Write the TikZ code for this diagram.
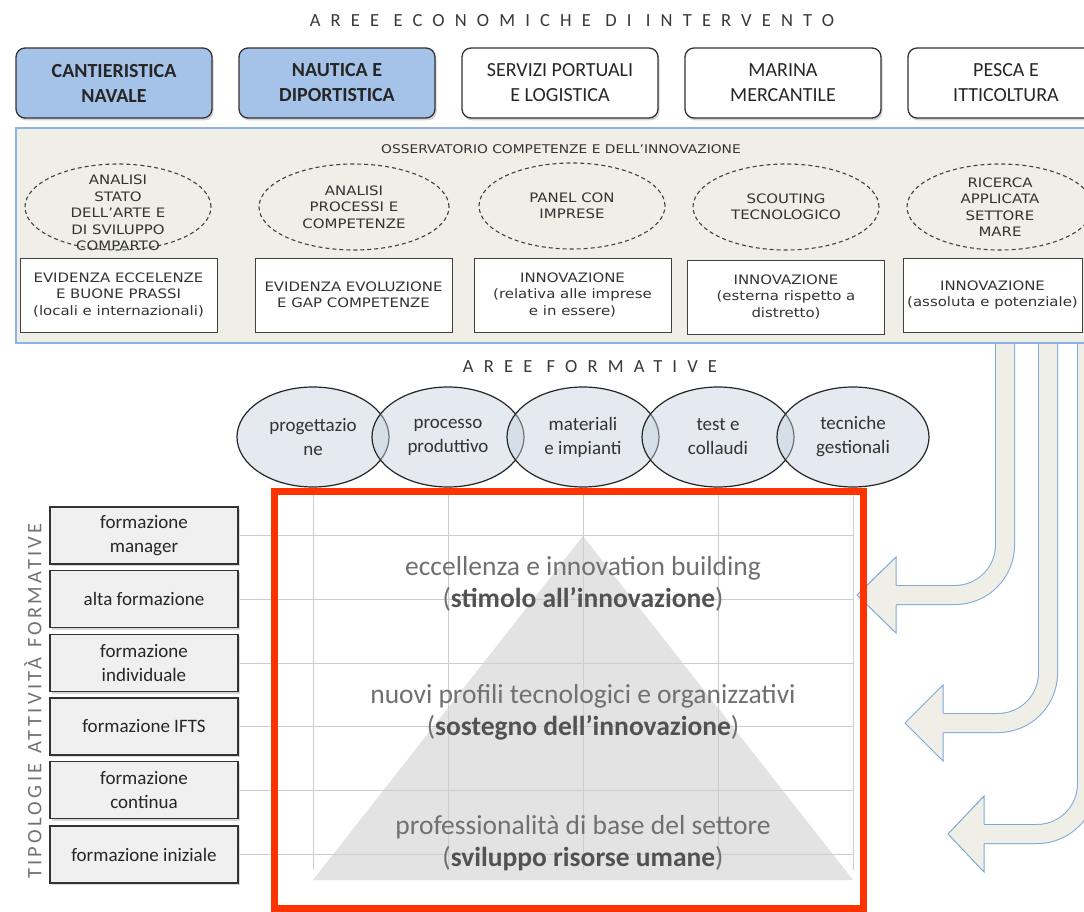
\documentclass[tikz,border=0pt]{standalone}
\usepackage{fontspec}
\setmainfont{Carlito}
\newfontfamily\verdana[FakeStretch=1.15]{DejaVu Sans}
\newfontfamily\spacedfont[LetterSpace=55]{Carlito}
\newfontfamily\sidefont[LetterSpace=16]{Carlito}
\usetikzlibrary{shapes.geometric,shadows}

\definecolor{bluebox}{HTML}{A5C3E8}
\definecolor{panelbg}{HTML}{EFEFE7}
\definecolor{panelline}{HTML}{8DB3E2}
\definecolor{arrowline}{HTML}{7FA7D8}
\definecolor{ellfill}{HTML}{C4D2DF}
\definecolor{gridgray}{HTML}{CDCDCD}
\definecolor{pyrgray}{HTML}{E3E3E3}
\definecolor{redframe}{HTML}{FF3300}
\definecolor{textgray}{HTML}{707070}

\begin{document}
\begin{tikzpicture}[x=1pt,y=-1pt,
  areabox/.style={draw=black!80, line width=1.3pt, rounded corners=9pt,
    minimum width=196pt, minimum height=70pt, inner sep=0pt, align=center,
    text=black!85, drop shadow={opacity=0.35, shadow xshift=1.5pt, shadow yshift=-2.5pt}},
  bluearea/.style={areabox, fill=bluebox, font=\fontsize{20}{25}\selectfont\bfseries},
  whitearea/.style={areabox, fill=white, font=\fontsize{20}{25}\selectfont},
  spacedtitle/.style={text=black!78, font=\spacedfont\fontsize{18.5}{20}\selectfont},
  panel/.style={draw=panelline, line width=1.5pt, fill=panelbg, inner sep=0pt},
  obstext/.style={font=\verdana\fontsize{13}{16.5}\selectfont, text=black!80, align=center, inner sep=0pt},
  dashell/.style={ellipse, draw=black!75, dash pattern=on 4pt off 3pt, line width=1.1pt,
    minimum width=186pt, minimum height=86pt, inner sep=0pt},
  obsbox/.style={obstext, draw=black!75, line width=1pt, fill=white,
    minimum width=197pt, minimum height=74pt},
  formell/.style={ellipse, draw=black!85, line width=1.2pt, fill=ellfill, fill opacity=0.45,
    text opacity=1, minimum width=152pt, minimum height=100pt, inner sep=0pt, align=center,
    font=\fontsize{19}{24}\selectfont, text=black!80},
  trainbox/.style={draw=black!80, line width=1.2pt, fill=black!6, minimum width=188pt,
    minimum height=57pt, inner sep=0pt, align=center, font=\fontsize{19}{24}\selectfont,
    text=black!85, drop shadow={opacity=0.3, shadow xshift=2pt, shadow yshift=-2pt}},
  gridline/.style={gridgray, line width=0.9pt},
  pyrtext/.style={text=textgray, font=\fontsize{27.5}{32}\selectfont, align=center},
  bigarrow/.style={draw=arrowline, line width=1pt, double=panelbg, double distance=18pt,
    rounded corners=50pt},
  arrowhead/.style={draw=arrowline, line width=1pt, fill=panelbg, line join=miter}]
\useasboundingbox[fill=white] (0,0) rectangle (1084,912);

% aree economiche
\node[spacedtitle] (econtitle) at (572,21) {AREE ECONOMICHE DI INTERVENTO};
\node[bluearea] (cant) at (114,83) {CANTIERISTICA\\NAVALE};
\node[bluearea] (naut) at (337,83) {NAUTICA E\\DIPORTISTICA};
\node[whitearea] (serv) at (560,83) {SERVIZI PORTUALI\\E LOGISTICA};
\node[whitearea] (marina) at (783,83) {MARINA\\MERCANTILE};
\node[whitearea] (pesca) at (1006,83) {PESCA E\\ITTICOLTURA};

% frecce verso le attivita
\draw[bigarrow] (1005,335) -- (1005,595) -- (896,595);
\filldraw[arrowhead] (896,585) -- (896,557) -- (857,595) -- (896,633) -- (896,605);
\draw[bigarrow] (1048,335) -- (1048,723) -- (943,723);
\filldraw[arrowhead] (943,713) -- (943,685) -- (905,723) -- (943,761) -- (943,733);
\draw[bigarrow] (1087,335) -- (1087,834) -- (984,834);
\filldraw[arrowhead] (984,824) -- (984,796) -- (948,834) -- (984,872) -- (984,844);

% osservatorio
\node[panel, minimum width=1094pt, minimum height=215pt] (obs) at (563,235.5) {};
\node[obstext, font=\verdana\fontsize{12}{15}\selectfont] (obstitle) at (561,149) {OSSERVATORIO COMPETENZE E DELL’INNOVAZIONE};
\node[dashell] (stato) at (118,207) {};
\node[obstext] at (118,213) {ANALISI\\STATO\\DELL’ARTE E\\DI SVILUPPO\\COMPARTO};
\node[dashell, minimum width=190pt] (proc) at (354,207) {};
\node[obstext] at (proc) {ANALISI\\PROCESSI E\\COMPETENZE};
\node[dashell] (panelimp) at (572,206) {};
\node[obstext] at (panelimp) {PANEL CON\\IMPRESE};
\node[dashell] (scout) at (786,207) {};
\node[obstext] at (scout) {SCOUTING\\TECNOLOGICO};
\node[dashell] (ricerca) at (1000,207) {};
\node[obstext] at (ricerca) {RICERCA\\APPLICATA\\SETTORE\\MARE};
\node[obsbox] (eccel) at (118.5,295) {EVIDENZA ECCELENZE\\E BUONE PRASSI\\(locali e internazionali)};
\node[obsbox] (evol) at (353.5,295) {EVIDENZA EVOLUZIONE\\E GAP COMPETENZE};
\node[obsbox] (innimp) at (572.5,295) {INNOVAZIONE\\(relativa alle imprese\\e in essere)};
\node[obsbox] (innest) at (786,297) {INNOVAZIONE\\(esterna rispetto a\\distretto)};
\node[obsbox, minimum width=179pt] (innass) at (992.5,295) {INNOVAZIONE\\(assoluta e potenziale)};

% aree formative
\node[spacedtitle] (formtitle) at (590,367) {AREE FORMATIVE};
\node[formell] (prog) at (313,437) {progettazio\\ne};
\node[formell] (prod) at (448,437) {processo\\produttivo};
\node[formell] (mat) at (583,437) {materiali\\e impianti};
\node[formell] (test) at (718,437) {test e\\collaudi};
\node[formell] (gest) at (853,437) {tecniche\\gestionali};

% tipologie attivita formative
\node[rotate=90, text=black!55, font=\sidefont\fontsize{20.5}{22}\selectfont] (tipol) at (33,701)
  {TIPOLOGIE\hspace{10pt}ATTIVITÀ\hspace{10pt}FORMATIVE};
\node[trainbox] (manager) at (144,535.5) {formazione\\manager};
\node[trainbox] (alta) at (144,599) {alta formazione};
\node[trainbox] (indiv) at (144,663) {formazione\\individuale};
\node[trainbox] (ifts) at (144,726.5) {formazione IFTS};
\node[trainbox] (cont) at (144,790) {formazione\\continua};
\node[trainbox] (iniz) at (144,854.5) {formazione iniziale};

% piramide e griglia
\coordinate (gridbottom) at (0,870);
\fill[pyrgray] (583,536) -- (853,880) -- (313,880) -- cycle;
\foreach \n in {prog,prod,mat,test,gest}
  \draw[gridline] (\n.south) -- (\n.south |- gridbottom);
\foreach \n in {manager,alta,indiv,ifts,cont,iniz}
  \draw[gridline] (\n.east) -- (\n.east -| gest.south);
\node[pyrtext] (lev3) at (583,584) {eccellenza e innovation building\\(\textbf{\color{black!68}stimolo all’innovazione})};
\node[pyrtext] (lev2) at (583,712) {nuovi profili tecnologici e organizzativi\\(\textbf{\color{black!68}sostegno dell’innovazione})};
\node[pyrtext] (lev1) at (583,843) {professionalità di base del settore\\(\textbf{\color{black!68}sviluppo risorse umane})};

\draw[redframe, line width=7pt] (274,491) rectangle (863.5,908);
\end{tikzpicture}
\end{document}
